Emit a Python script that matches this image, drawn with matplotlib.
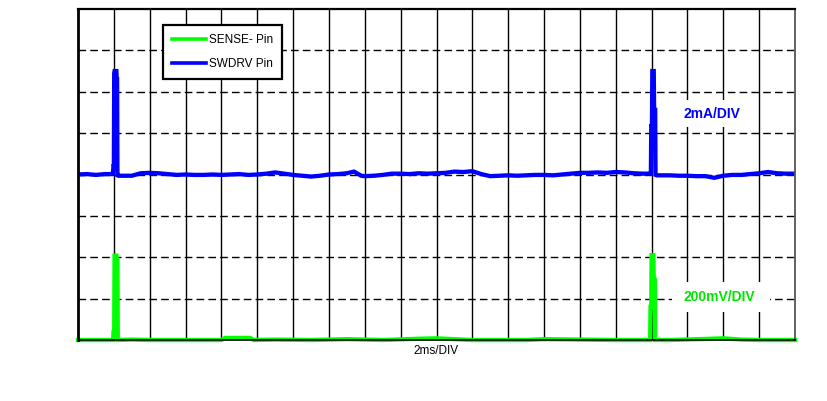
import matplotlib
matplotlib.use("Agg")
import matplotlib.pyplot as plt
from matplotlib.patches import Rectangle

plt.rcParams['font.family'] = ['Liberation Sans', 'DejaVu Sans']

# ---- data (time in divisions of 2 ms, amplitude in divisions) ----
swdrv_t = [0.00, 0.25, 0.50, 0.75, 0.97, 0.99, 1.00, 1.01, 1.02, 1.07, 1.08, 1.09, 1.10, 1.13,
           1.25, 1.50, 1.75, 2.00, 2.25, 2.50, 2.75, 3.00, 3.25, 3.50, 3.75, 4.00, 4.25, 4.50,
           4.75, 5.00, 5.25, 5.50, 5.75, 6.00, 6.25, 6.50, 6.75, 7.00, 7.25, 7.50, 7.70, 7.90,
           8.00, 8.25, 8.50, 8.75, 9.00, 9.25, 9.50, 9.75, 10.00, 10.25, 10.50, 10.75, 11.00,
           11.25, 11.50, 11.75, 12.00, 12.25, 12.50, 12.75, 13.00, 13.25, 13.50, 13.75, 14.00,
           14.25, 14.50, 14.75, 15.00, 15.25, 15.50, 15.75, 15.96, 15.98, 15.99, 16.01, 16.02,
           16.06, 16.07, 16.10, 16.11, 16.14, 16.25, 16.50, 16.75, 17.00, 17.25, 17.50, 17.75,
           18.00, 18.25, 18.50, 18.75, 19.00, 19.25, 19.50, 19.75, 20.00]
swdrv_v = [4.00, 4.01, 3.99, 4.01, 4.01, 4.20, 4.20, 6.45, 6.50, 6.50, 6.30, 6.30, 3.98, 3.97,
           3.97, 3.97, 4.03, 4.04, 4.03, 4.01, 3.99, 4.00, 3.99, 3.99, 4.00, 3.99, 4.00, 4.01,
           3.99, 4.00, 4.02, 4.05, 4.02, 3.99, 3.97, 3.95, 3.97, 4.00, 4.01, 4.03, 4.07, 3.97,
           3.96, 3.97, 3.99, 4.02, 4.02, 4.01, 4.03, 4.02, 4.03, 4.04, 4.07, 4.06, 4.08,
           4.01, 3.96, 3.97, 3.98, 3.97, 3.98, 3.99, 3.99, 3.98, 4.00, 4.02, 4.04,
           4.04, 4.05, 4.04, 4.06, 4.05, 4.03, 4.02, 4.02, 4.02, 5.17, 5.17, 6.50,
           6.50, 5.56, 5.56, 3.99, 3.98, 3.98, 3.98, 3.97, 3.97, 3.96, 3.96, 3.92,
           3.97, 3.99, 3.99, 4.01, 4.03, 4.06, 4.03, 4.02, 4.02]

sense_t = [0.00, 0.50, 0.90, 0.98, 0.99, 1.01, 1.02, 1.07, 1.08, 1.10, 1.11, 1.50, 2.00, 3.00,
           4.00, 4.10, 4.80, 4.90, 5.50, 6.50, 7.50, 8.50, 9.50, 10.00, 10.50, 11.00, 12.50,
           13.00, 14.00, 15.00, 15.90, 15.96, 15.97, 15.99, 16.00, 16.05, 16.06, 16.09, 16.10,
           16.50, 17.30, 18.00, 18.50, 19.00, 20.00]
sense_v = [0.00, 0.00, 0.00, 0.00, 0.19, 0.19, 2.04, 2.04, 1.93, 1.93, 0.00, 0.01, 0.00, 0.00,
           0.00, 0.05, 0.05, 0.00, 0.01, 0.00, 0.02, 0.00, 0.03, 0.04, 0.02, 0.00, 0.00,
           0.02, 0.01, 0.00, 0.00, 0.00, 0.80, 0.80, 2.05, 2.05, 1.45, 1.45, 0.00,
           0.00, 0.02, 0.04, 0.01, 0.00, 0.00]

labels = ['SENSE- Pin', 'SWDRV Pin']
x_divs = 20
y_divs = 8

GREEN = '#00FF00'
BLUE = '#0000FF'

fig = plt.figure(figsize=(8.27, 4.01), dpi=100)
ax = fig.add_axes([78 / 827, (401 - 340) / 401, (795 - 78) / 827, (340 - 9) / 401])
ax.set_xlim(0, x_divs)
ax.set_ylim(0, y_divs)

# grid
for k in range(1, x_divs):
    ax.axvline(k, color='black', lw=1.0, zorder=1)
for k in range(1, y_divs):
    ax.axhline(k, color='black', lw=1.0, dashes=(5.5, 3), zorder=1)

ax.plot(sense_t, sense_v, color=GREEN, lw=3.1, label=labels[0], zorder=4, clip_on=False,
        solid_joinstyle='miter')
ax.plot(swdrv_t, swdrv_v, color=BLUE, lw=3.1, label=labels[1], zorder=4,
        solid_joinstyle='miter')

# scale labels with white backgrounds
ax.add_patch(Rectangle((16.79, 5.14), 1.81, 0.65, facecolor='white', edgecolor='none', zorder=2))
ax.text(17.68, 5.46, '2mA/DIV', color=BLUE, fontsize=10, fontweight='bold',
        ha='center', va='center', zorder=3)
ax.add_patch(Rectangle((16.57, 0.675), 2.73, 0.725, facecolor='white', edgecolor='none', zorder=2))
ax.text(17.88, 1.04, '200mV/DIV', color='#00E600', fontsize=10, fontweight='bold',
        ha='center', va='center', zorder=3)

leg = ax.legend(loc='upper left', bbox_to_anchor=((163 - 78) / 717, (340 - 25) / 331),
                borderaxespad=0, fontsize=8.5, handlelength=2.9, handletextpad=0.25,
                labelspacing=1.0, borderpad=0.75, fancybox=False, framealpha=1,
                edgecolor='black')
leg.get_frame().set_linewidth(1.6)
leg.set_zorder(6)
for line in leg.get_lines():
    line.set_linewidth(2.6)

ax.set_xticks([])
ax.set_yticks([])
ax.spines['left'].set_linewidth(2.0)
ax.spines['top'].set_linewidth(1.6)
ax.spines['bottom'].set_linewidth(1.2)
ax.spines['right'].set_color('#555555')
ax.spines['right'].set_linewidth(1.3)
for s in ax.spines.values():
    s.set_zorder(5)

ax.set_xlabel('2ms/DIV', fontsize=8.5, labelpad=3.5)

fig.savefig('out.png', dpi=100)
